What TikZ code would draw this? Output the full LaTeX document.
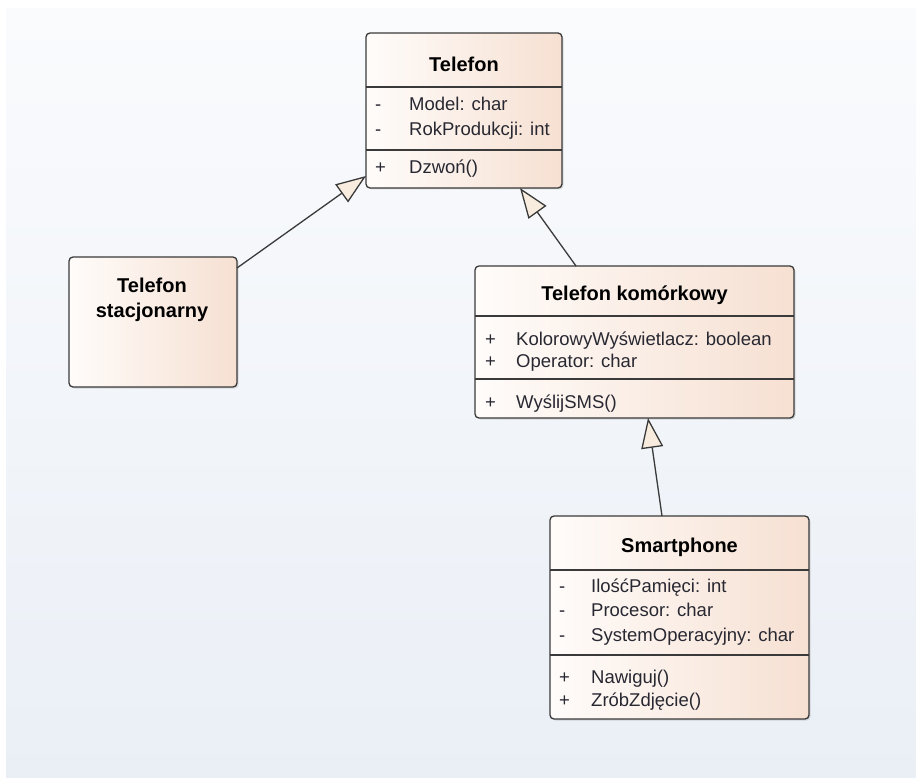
\documentclass[tikz,border=0pt]{standalone}
\usepackage{fontspec}
\setmainfont{Liberation Sans}
\usetikzlibrary{arrows.meta,calc,shadows}
\definecolor{bgtop}{RGB}{250,251,253}
\definecolor{bgbot}{RGB}{234,239,246}
\definecolor{boxL}{RGB}{255,252,250}
\definecolor{boxR}{RGB}{246,224,210}
\definecolor{edge}{RGB}{58,58,58}
\definecolor{txt}{RGB}{40,40,50}
\definecolor{headfill}{RGB}{247,236,222}
\tikzset{
  classbox/.style={draw=edge, line width=1.3pt, rounded corners=4pt,
    left color=boxL, right color=boxR, inner sep=0pt, outer sep=0pt,
    anchor=north west,
    drop shadow={shadow xshift=1.5pt, shadow yshift=-1.5pt, opacity=0.25}},
  divider/.style={draw=edge, line width=1.3pt},
  title/.style={font=\fontsize{20}{24}\selectfont\bfseries, text=black,
    inner sep=0pt, anchor=base},
  member/.style={font=\fontsize{18.5}{22}\selectfont, text=txt,
    inner sep=0pt, anchor=base west},
  gen/.style={draw=edge, line width=1.3pt,
    -{Triangle[fill=headfill, length=30pt, width=22pt, line width=1.3pt]}},
}
\begin{document}
\begin{tikzpicture}[x=1pt,y=-1pt]
\useasboundingbox (0,0) rectangle (916,778);
\fill[white] (0,0) rectangle (916,778);
\fill[top color=bgtop, bottom color=bgbot] (6,9) rectangle (916,778);

% Telefon
\node[classbox, minimum width=196pt, minimum height=155pt] (tel) at (366,33) {};
\draw[divider] ($(tel.north west)+(0,54)$) -- ($(tel.north east)+(0,54)$);
\draw[divider] ($(tel.north west)+(0,117)$) -- ($(tel.north east)+(0,117)$);
\node[title] (telT) at (464,72) {Telefon};
\node[member] (telA1m) at (375,111) {-};
\node[member] (telA1) at (409,111) {Model: char};
\node[member] (telA2m) at (375,136) {-};
\node[member] (telA2) at (409,136) {RokProdukcji: int};
\node[member] (telM1m) at (375,174) {+};
\node[member] (telM1) at (409,174) {Dzwoń()};

% Telefon stacjonarny
\node[classbox, minimum width=168pt, minimum height=130pt] (stac) at (69,257) {};
\node[title] (stacT1) at (152,293) {Telefon};
\node[title] (stacT2) at (152,317) {stacjonarny};

% Telefon komorkowy
\node[classbox, minimum width=319pt, minimum height=152pt] (kom) at (475,266) {};
\draw[divider] ($(kom.north west)+(0,50)$) -- ($(kom.north east)+(0,50)$);
\draw[divider] ($(kom.north west)+(0,113)$) -- ($(kom.north east)+(0,113)$);
\node[title] (komT) at (634.5,301) {Telefon komórkowy};
\node[member] (komA1m) at (485,345) {+};
\node[member] (komA1) at (516,345) {KolorowyWyświetlacz: boolean};
\node[member] (komA2m) at (485,367) {+};
\node[member] (komA2) at (516,367) {Operator: char};
\node[member] (komM1m) at (485,408) {+};
\node[member] (komM1) at (516,408) {WyślijSMS()};

% Smartphone
\node[classbox, minimum width=259pt, minimum height=203pt] (smart) at (550,516) {};
\draw[divider] ($(smart.north west)+(0,54)$) -- ($(smart.north east)+(0,54)$);
\draw[divider] ($(smart.north west)+(0,139)$) -- ($(smart.north east)+(0,139)$);
\node[title] (smartT) at (679.5,552) {Smartphone};
\node[member] (smA1m) at (559,592) {-};
\node[member] (smA1) at (591,592) {IlośćPamięci: int};
\node[member] (smA2m) at (559,616) {-};
\node[member] (smA2) at (591,616) {Procesor: char};
\node[member] (smA3m) at (559,641) {-};
\node[member] (smA3) at (591,641) {SystemOperacyjny: char};
\node[member] (smM1m) at (559,683) {+};
\node[member] (smM1) at (591,683) {Nawiguj()};
\node[member] (smM2m) at (559,706) {+};
\node[member] (smM2) at (591,706) {ZróbZdjęcie()};

% Generalizations
\draw[gen] ([yshift=-11pt]stac.north east) -- ([yshift=12pt]tel.south west);
\draw[gen] ([xshift=101pt]kom.north west) -- ([xshift=154pt]tel.south west);
\draw[gen] ([xshift=112pt]smart.north west) -- ([xshift=173pt]kom.south west);
\end{tikzpicture}
\end{document}
